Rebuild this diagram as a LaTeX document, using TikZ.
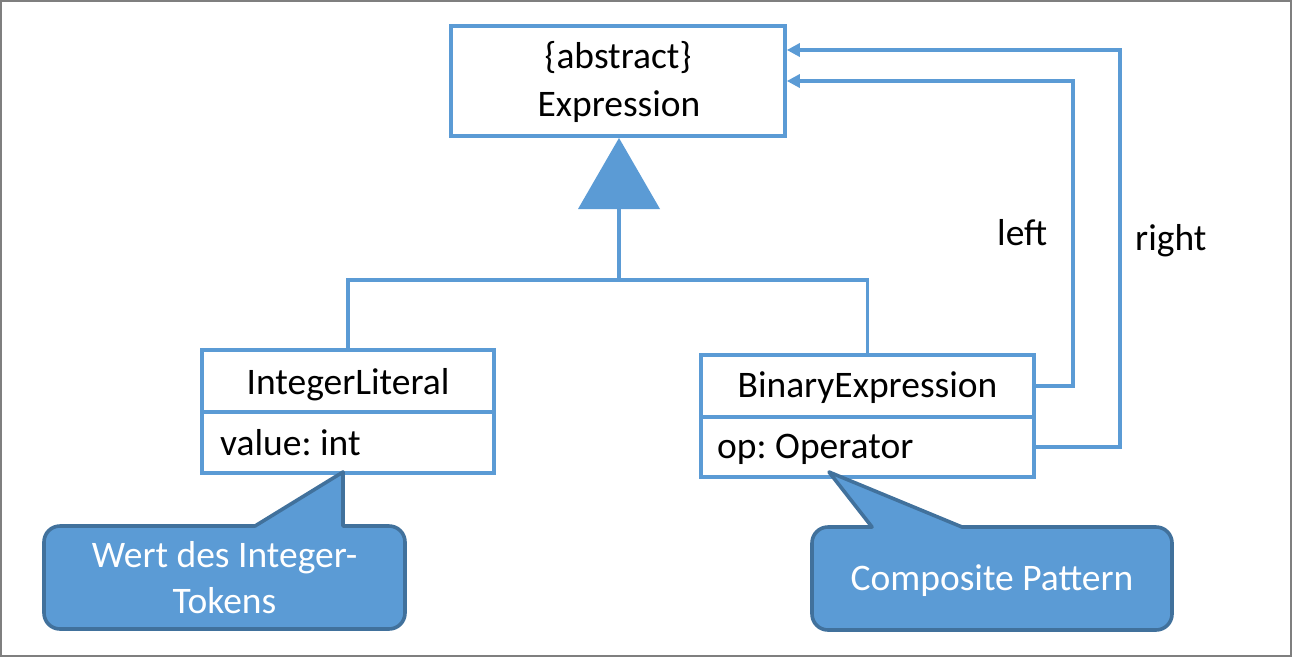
\documentclass[tikz,border=0pt]{standalone}
\usepackage{fontspec}
\setmainfont{Carlito}
\usetikzlibrary{arrows.meta}
\definecolor{uml}{HTML}{5B9BD5}
\definecolor{umldark}{HTML}{41719C}
\definecolor{framegray}{HTML}{7F7F7F}
\frenchspacing
\begin{document}
\begin{tikzpicture}[x=1pt,y=-1pt,
  txt/.style={font=\fontsize{37.5}{45}\selectfont, inner sep=0pt},
  box/.style={draw=uml, line width=3.6pt, inner sep=0pt, fill=white},
  conn/.style={draw=uml, line width=3.6pt},
  arr/.style={conn, -{Triangle[length=13pt,width=13pt]}},
  callout/.style={fill=uml, draw=umldark, line width=3.6pt, line join=round},
  ctext/.style={txt, text=white}]

\useasboundingbox (0,0) rectangle (1292,657);
\draw[framegray, line width=2pt] (1,1) rectangle (1291,656);

% classes
\node[box, minimum width=334pt, minimum height=110pt] (expr) at (618,81) {};
\node[txt, anchor=base] (exprabs) at (618,68) {\{abstract\}};
\node[txt, anchor=base] (exprname) at (619,116) {Expression};

\node[box, minimum width=292pt, minimum height=62pt] (ilname) at (348,381) {};
\node[box, minimum width=292pt, minimum height=61pt] (ilattr) at (348,442.5) {};
\node[txt, anchor=base] (iltxt) at (348,394) {IntegerLiteral};
\node[txt, anchor=base west] (ilatxt) at (220,455) {value: int};

\node[box, minimum width=333pt, minimum height=62pt] (bename) at (867.5,386) {};
\node[box, minimum width=333pt, minimum height=60pt] (beattr) at (867.5,447) {};
\node[txt, anchor=base] (betxt) at (867.5,397) {BinaryExpression};
\node[txt, anchor=base west] (beatxt) at (717,458) {op: Operator};

% inheritance
\fill[uml] (619,138) -- (578,209) -- (660,209) -- cycle;
\coordinate (tri) at (619,209);
\coordinate (j) at (619,280);
\draw[conn] (tri) -- (j);
\draw[conn] (ilname.north) |- (j) -| (bename.north);

% associations
\coordinate (lcorner) at (1073,81);
\coordinate (rcorner) at (1120,50);
\draw[arr] (bename.east) -| (lcorner) -- (expr.east);
\draw[arr] (beattr.east) -| (rcorner) -- (expr.east |- rcorner);
\node[txt, anchor=base west] (lleft) at (997,245) {left};
\node[txt, anchor=base west] (lright) at (1135,250) {right};

% callouts
\draw[callout] (150,526) -- (255,526) -- (343,472) -- (343,526)
  [rounded corners=16pt] -- (405,526) -- (405,629) -- (44,629) -- (44,526) -- cycle;
\node[ctext, anchor=base] (c1a) at (224.5,567) {Wert des Integer-};
\node[ctext, anchor=base] (c1b) at (224.5,613) {Tokens};

\draw[callout] (829,472) -- (962,527) [rounded corners=16pt] -- (1172,527) -- (1172,630)
  -- (812,630) -- (812,527) [sharp corners] -- (872,527) -- cycle;
\node[ctext, anchor=base] (c2) at (992,590) {Composite Pattern};
\end{tikzpicture}
\end{document}
